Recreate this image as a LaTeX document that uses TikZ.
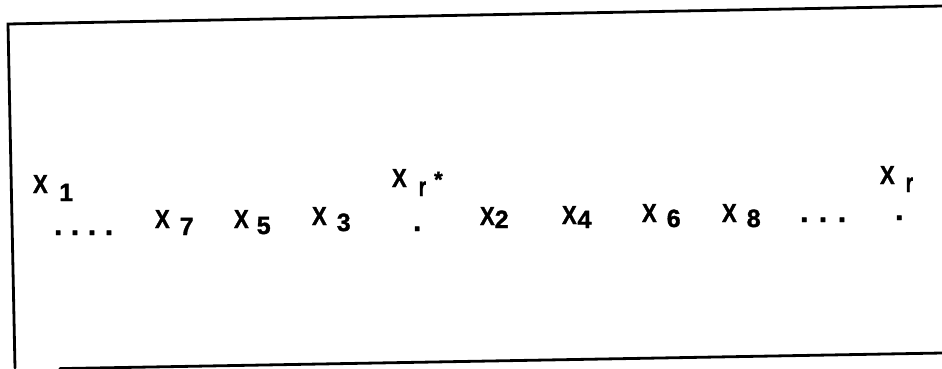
\documentclass[tikz,border=0pt]{standalone}
\usepackage{fontspec}
\setmainfont{Liberation Sans}[BoldFeatures={FakeBold=1.5}]
\usetikzlibrary{positioning}
\tikzset{
  lbl/.style={anchor=base west, inner sep=0pt, outer sep=0pt,
    font=\fontsize{22}{24}\selectfont\bfseries},
  dotrow/.style={anchor=base west, inner sep=0pt, outer sep=0pt,
    font=\fontsize{30}{32}\selectfont\bfseries},
  frame/.style={line width=2.8pt, line cap=round}
}
% narrow capital X and narrow r of the scan
\newcommand{\capx}{\scalebox{0.85}[1]{\fontsize{26}{28}\selectfont X}}
\newcommand{\tallr}{\scalebox{0.7}[1]{\fontsize{27}{28}\selectfont r}}
% X with a lowered index: gap, drop, index
\newcommand{\xidx}[3]{\capx\hspace{#1pt}\raisebox{-#2pt}{\fontsize{25}{26}\selectfont #3}}

\begin{document}
\begin{tikzpicture}[x=1pt,y=-1pt]
  \useasboundingbox (0,0) rectangle (942,368);
  \clip (0,0) rectangle (942,368);
  % frame of the scan
  \draw[frame] (942,6) -- (8,24) -- (15,368);
  \draw[frame] (60,368.6) -- (942,353);
  % labels
  \node[lbl] (x1) at (33,193) {\xidx{11.5}{8}{1}};
  \node[dotrow] (dl) at (54,235) {.\hspace{8.6pt}.\hspace{8.6pt}.\hspace{8.6pt}.};
  \node[lbl] (x7) at (155,228) {\xidx{10}{7}{7}};
  \node[lbl] (x5) at (234,228) {\xidx{8}{6}{5}};
  \node[lbl] (x3) at (312,225) {\xidx{10}{6}{3}};
  \node[lbl] (xrs) at (392,187) {\capx\hspace{12pt}\raisebox{-9pt}{\tallr}\hspace{8pt}*};
  \node[dotrow] (drs) at (413,231) {.};
  \node[lbl] (x2) at (480,225) {\xidx{0}{3}{2}};
  \node[lbl] (x4) at (562,224) {\xidx{0.8}{4}{4}};
  \node[lbl] (x6) at (642,222) {\xidx{10}{5}{6}};
  \node[lbl] (x8) at (722,222) {\xidx{10}{5}{8}};
  \node[dotrow] (dr) at (800,222) {.\hspace{10.6pt}.\hspace{10.6pt}.};
  \node[lbl] (xr) at (880,184) {\capx\hspace{11pt}\raisebox{-8pt}{\tallr}};
  \node[dotrow] (drr) at (895,220) {.};
\end{tikzpicture}
\end{document}
